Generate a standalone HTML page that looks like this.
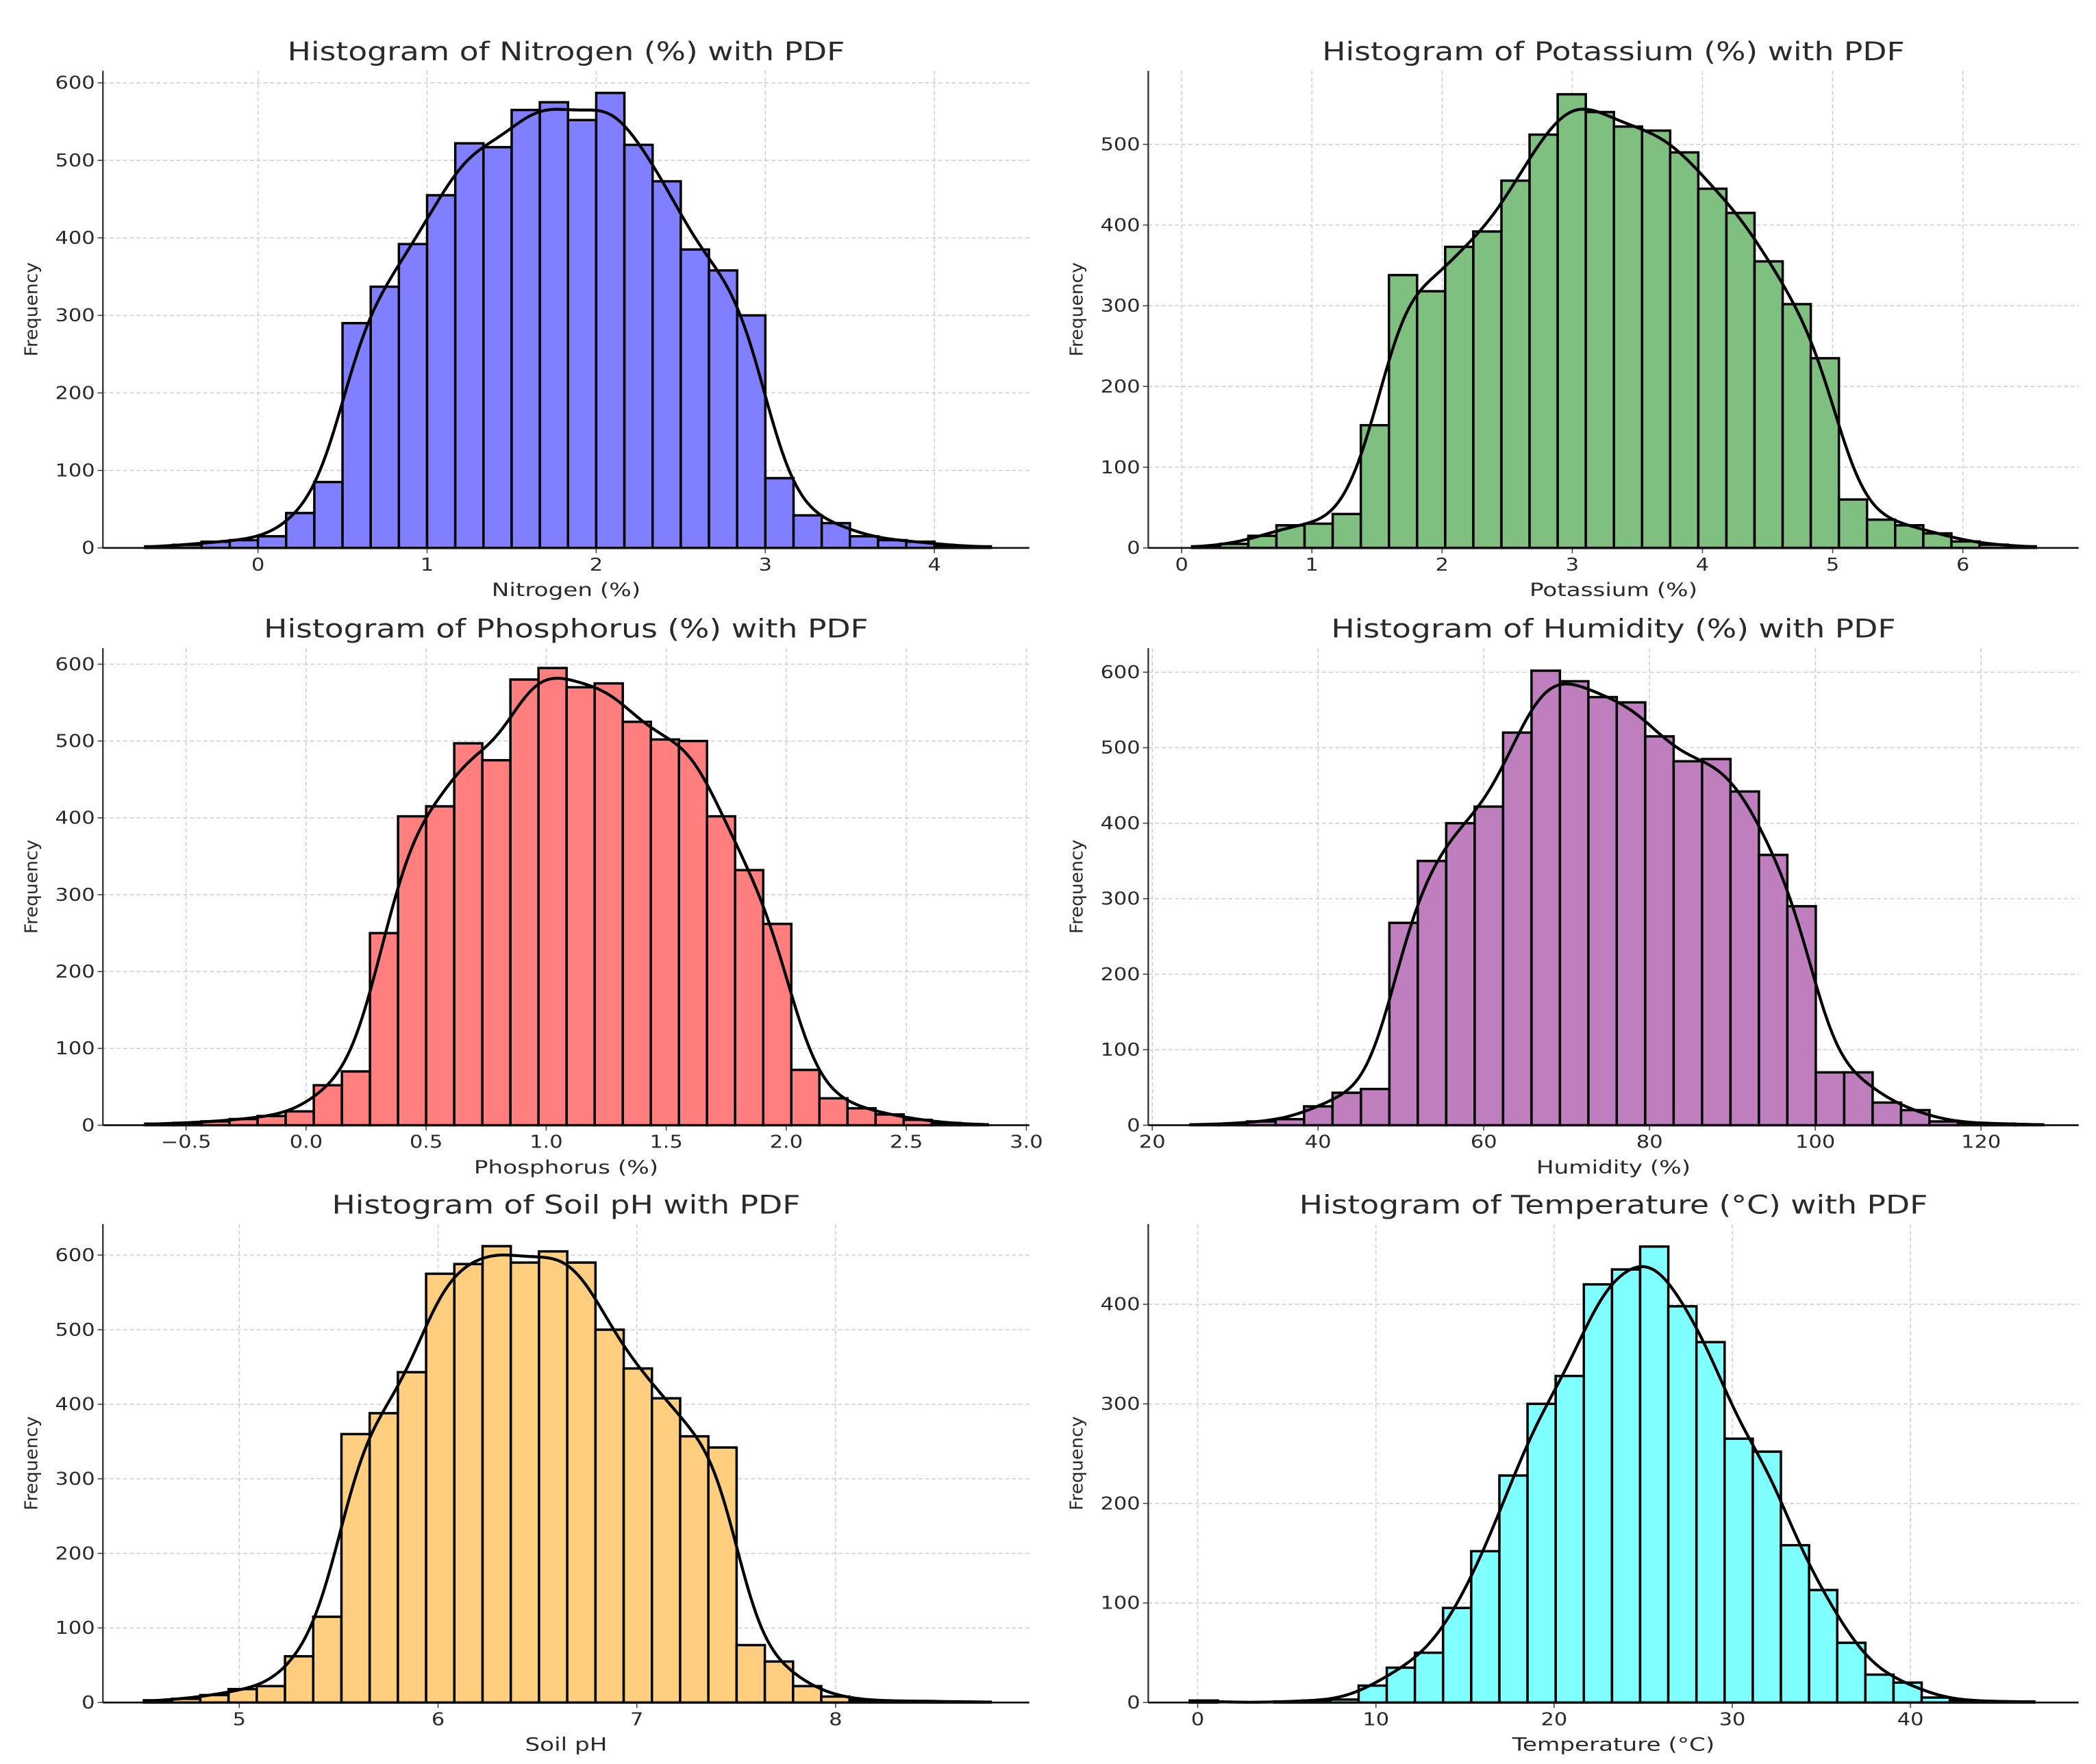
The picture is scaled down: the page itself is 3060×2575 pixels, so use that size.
<!DOCTYPE html>
<html><head><meta charset="utf-8">
<style>
html,body{margin:0;padding:0;background:#fff;}
svg{display:block;}
text{font-family:"DejaVu Sans","Liberation Sans",sans-serif;fill:#2a2a2a;}
</style></head>
<body>
<svg id="fig" width="3060" height="2575" viewBox="0 0 1568 1320" preserveAspectRatio="none" xmlns="http://www.w3.org/2000/svg"></svg>
<script>
// ---- data ----
const nitrogenCounts = [2,4,8,10,15,45,85,290,337,392,455,522,517,565,575,552,587,520,473,385,358,300,90,42,32,15,10,8,3,2];
const potassiumCounts = [2,5,15,28,30,42,152,338,318,373,392,455,512,562,540,522,517,490,445,415,355,302,235,60,35,28,18,8,4,2];
const phosphorusCounts = [2,3,5,8,12,18,52,70,250,402,415,497,475,580,595,570,575,525,502,500,402,332,262,72,35,22,14,7,3,1];
const humidityCounts = [1,2,5,8,25,43,48,268,350,400,422,520,602,588,567,560,515,482,485,442,358,290,70,70,30,20,5,3,2,1];
const soilPhCounts = [3,5,10,18,22,62,115,360,388,443,575,588,612,590,605,590,500,448,408,357,342,77,55,22,8,3,2,2,1,1];
const temperatureCounts = [2,0,0,1,2,3,17,35,50,95,152,228,300,328,420,435,458,398,362,265,252,158,113,60,28,20,5,2,1,1];
const binStarts = [-0.667, 0.08, -0.67, 24.6, 4.52, -0.45];
const binWidths = [0.1667, 0.216, 0.117, 3.43, 0.142, 1.58];
const xTickValues = [[0,1,2,3,4],[0,1,2,3,4,5,6],[-0.5,0,0.5,1,1.5,2,2.5,3],[20,40,60,80,100,120],[5,6,7,8],[0,10,20,30,40]];
const xTickLabels = [["0","1","2","3","4"],["0","1","2","3","4","5","6"],["\u22120.5","0.0","0.5","1.0","1.5","2.0","2.5","3.0"],["20","40","60","80","100","120"],["5","6","7","8"],["0","10","20","30","40"]];
const yTickValues = [[0,100,200,300,400,500,600],[0,100,200,300,400,500],[0,100,200,300,400,500,600],[0,100,200,300,400,500,600],[0,100,200,300,400,500,600],[0,100,200,300,400]];
const titles = ["Histogram of Nitrogen (%) with PDF","Histogram of Potassium (%) with PDF","Histogram of Phosphorus (%) with PDF","Histogram of Humidity (%) with PDF","Histogram of Soil pH with PDF","Histogram of Temperature (\u00B0C) with PDF"];
const xLabels = ["Nitrogen (%)","Potassium (%)","Phosphorus (%)","Humidity (%)","Soil pH","Temperature (\u00B0C)"];
const panelNames = ["nitrogen","potassium","phosphorus","humidity","soil-ph","temperature"];
const allCounts = [nitrogenCounts,potassiumCounts,phosphorusCounts,humidityCounts,soilPhCounts,temperatureCounts];
const colors = ["#7f7fff","#7fbf7f","#ff7f7f","#bf7fbf","#ffcf7f","#7fffff"];

// ---- layout (display units) ----
const layouts = [
 {l:77,r:770,t:53,b:410,x0v:0,x0p:193,xu:126.5,yu:0.58},
 {l:859,r:1555,t:53,b:410,x0v:0,x0p:884,xu:97.4,yu:0.604},
 {l:77,r:770,t:485,b:842,x0v:0,x0p:229,xu:179.6,yu:0.575},
 {l:859,r:1555,t:485,b:842,x0v:20,x0p:862,xu:6.2,yu:0.565},
 {l:77,r:770,t:916,b:1274,x0v:5,x0p:179,xu:148.7,yu:0.558},
 {l:859,r:1555,t:916,b:1274,x0v:0,x0p:896,xu:13.33,yu:0.745}
];
const NS="http://www.w3.org/2000/svg";
const svg=document.getElementById('fig');
function mk(tag,attrs,parent){const e=document.createElementNS(NS,tag);for(const k in attrs)e.setAttribute(k,attrs[k]);(parent||svg).appendChild(e);return e;}
function txt(parent,x,y,size,anchor,sx){
  return mk('text',{x:0,y:0,'font-size':size,'text-anchor':anchor,transform:'translate('+x+','+y+') scale('+sx+',1)'},parent);
}

for(let p=0;p<6;p++){
  const L=layouts[p], counts=allCounts[p];
  const xs=v=>L.x0p+(v-L.x0v)*L.xu;
  const ys=c=>L.b-c*L.yu;
  const g=mk('g',{});
  
  
  xTickValues[p].forEach((v,i)=>{
    const X=xs(v);
    const gl=mk('line',{x1:X,x2:X,y1:L.t,y2:L.b,stroke:'#cfcfcf','stroke-width':0.8,'stroke-dasharray':'3,2'},g);
    
    
    mk('line',{x1:X,x2:X,y1:L.b,y2:L.b+4,stroke:'#444','stroke-width':0.8},g);
    const t=txt(g,X,L.b+17,13,'middle',1.2);
    t.textContent=xTickLabels[p][i];
    
    
  });
  yTickValues[p].forEach(v=>{
    const Y=ys(v);
    const gl=mk('line',{x1:L.l,x2:L.r,y1:Y,y2:Y,stroke:'#cfcfcf','stroke-width':0.8,'stroke-dasharray':'3,2'},g);
    
    
    mk('line',{x1:L.l-4,x2:L.l,y1:Y,y2:Y,stroke:'#444','stroke-width':0.8},g);
    const t=txt(g,L.l-6,Y+4.5,13,'end',1.2);
    t.textContent=String(v);
    
    
  });
  const w=binWidths[p], s0=binStarts[p];
  counts.forEach((c,i)=>{
    const xa=xs(s0+i*w), xb=xs(s0+(i+1)*w);
    const r=mk('rect',{x:xa,y:ys(c),width:xb-xa,height:c*L.yu,fill:colors[p],stroke:'#000','stroke-width':1.8},g);
    
    
  });
  const h=w*0.85;
  const lo=s0, hi=s0+counts.length*w;
  let d='';
  for(let k=0;k<=300;k++){
    const x=lo+(hi-lo)*k/300;
    let dens=0;
    counts.forEach((c,i)=>{const z=(x-(s0+(i+0.5)*w))/h;dens+=c*Math.exp(-0.5*z*z);});
    dens=dens/(h*Math.sqrt(2*Math.PI))*w;
    d+=(k?'L':'M')+xs(x).toFixed(2)+','+ys(dens).toFixed(2);
  }
  const path=mk('path',{d:d,fill:'none',stroke:'#000','stroke-width':2.2},g);
  
  
  mk('line',{x1:L.l,x2:L.l,y1:L.t,y2:L.b,stroke:'#333','stroke-width':1.2},g);
  mk('line',{x1:L.l,x2:L.r,y1:L.b,y2:L.b,stroke:'#111','stroke-width':1.4},g);
  const cx=(L.l+L.r)/2;
  const tt=txt(g,cx,L.t-8,19,'middle',1.23);
  tt.textContent=titles[p];
  
  
  const xl=txt(g,cx,L.b+36,13.5,'middle',1.3);
  xl.textContent=xLabels[p];
  
  
  const ym=(L.t+L.b)/2;
  const yl=mk('text',{x:0,y:0,'font-size':13,'text-anchor':'middle',transform:'translate('+(L.l-49)+','+ym+') rotate(-90) scale(1.05,1)'},g);
  yl.textContent='Frequency';
  
  
}
</script>
</body></html>
